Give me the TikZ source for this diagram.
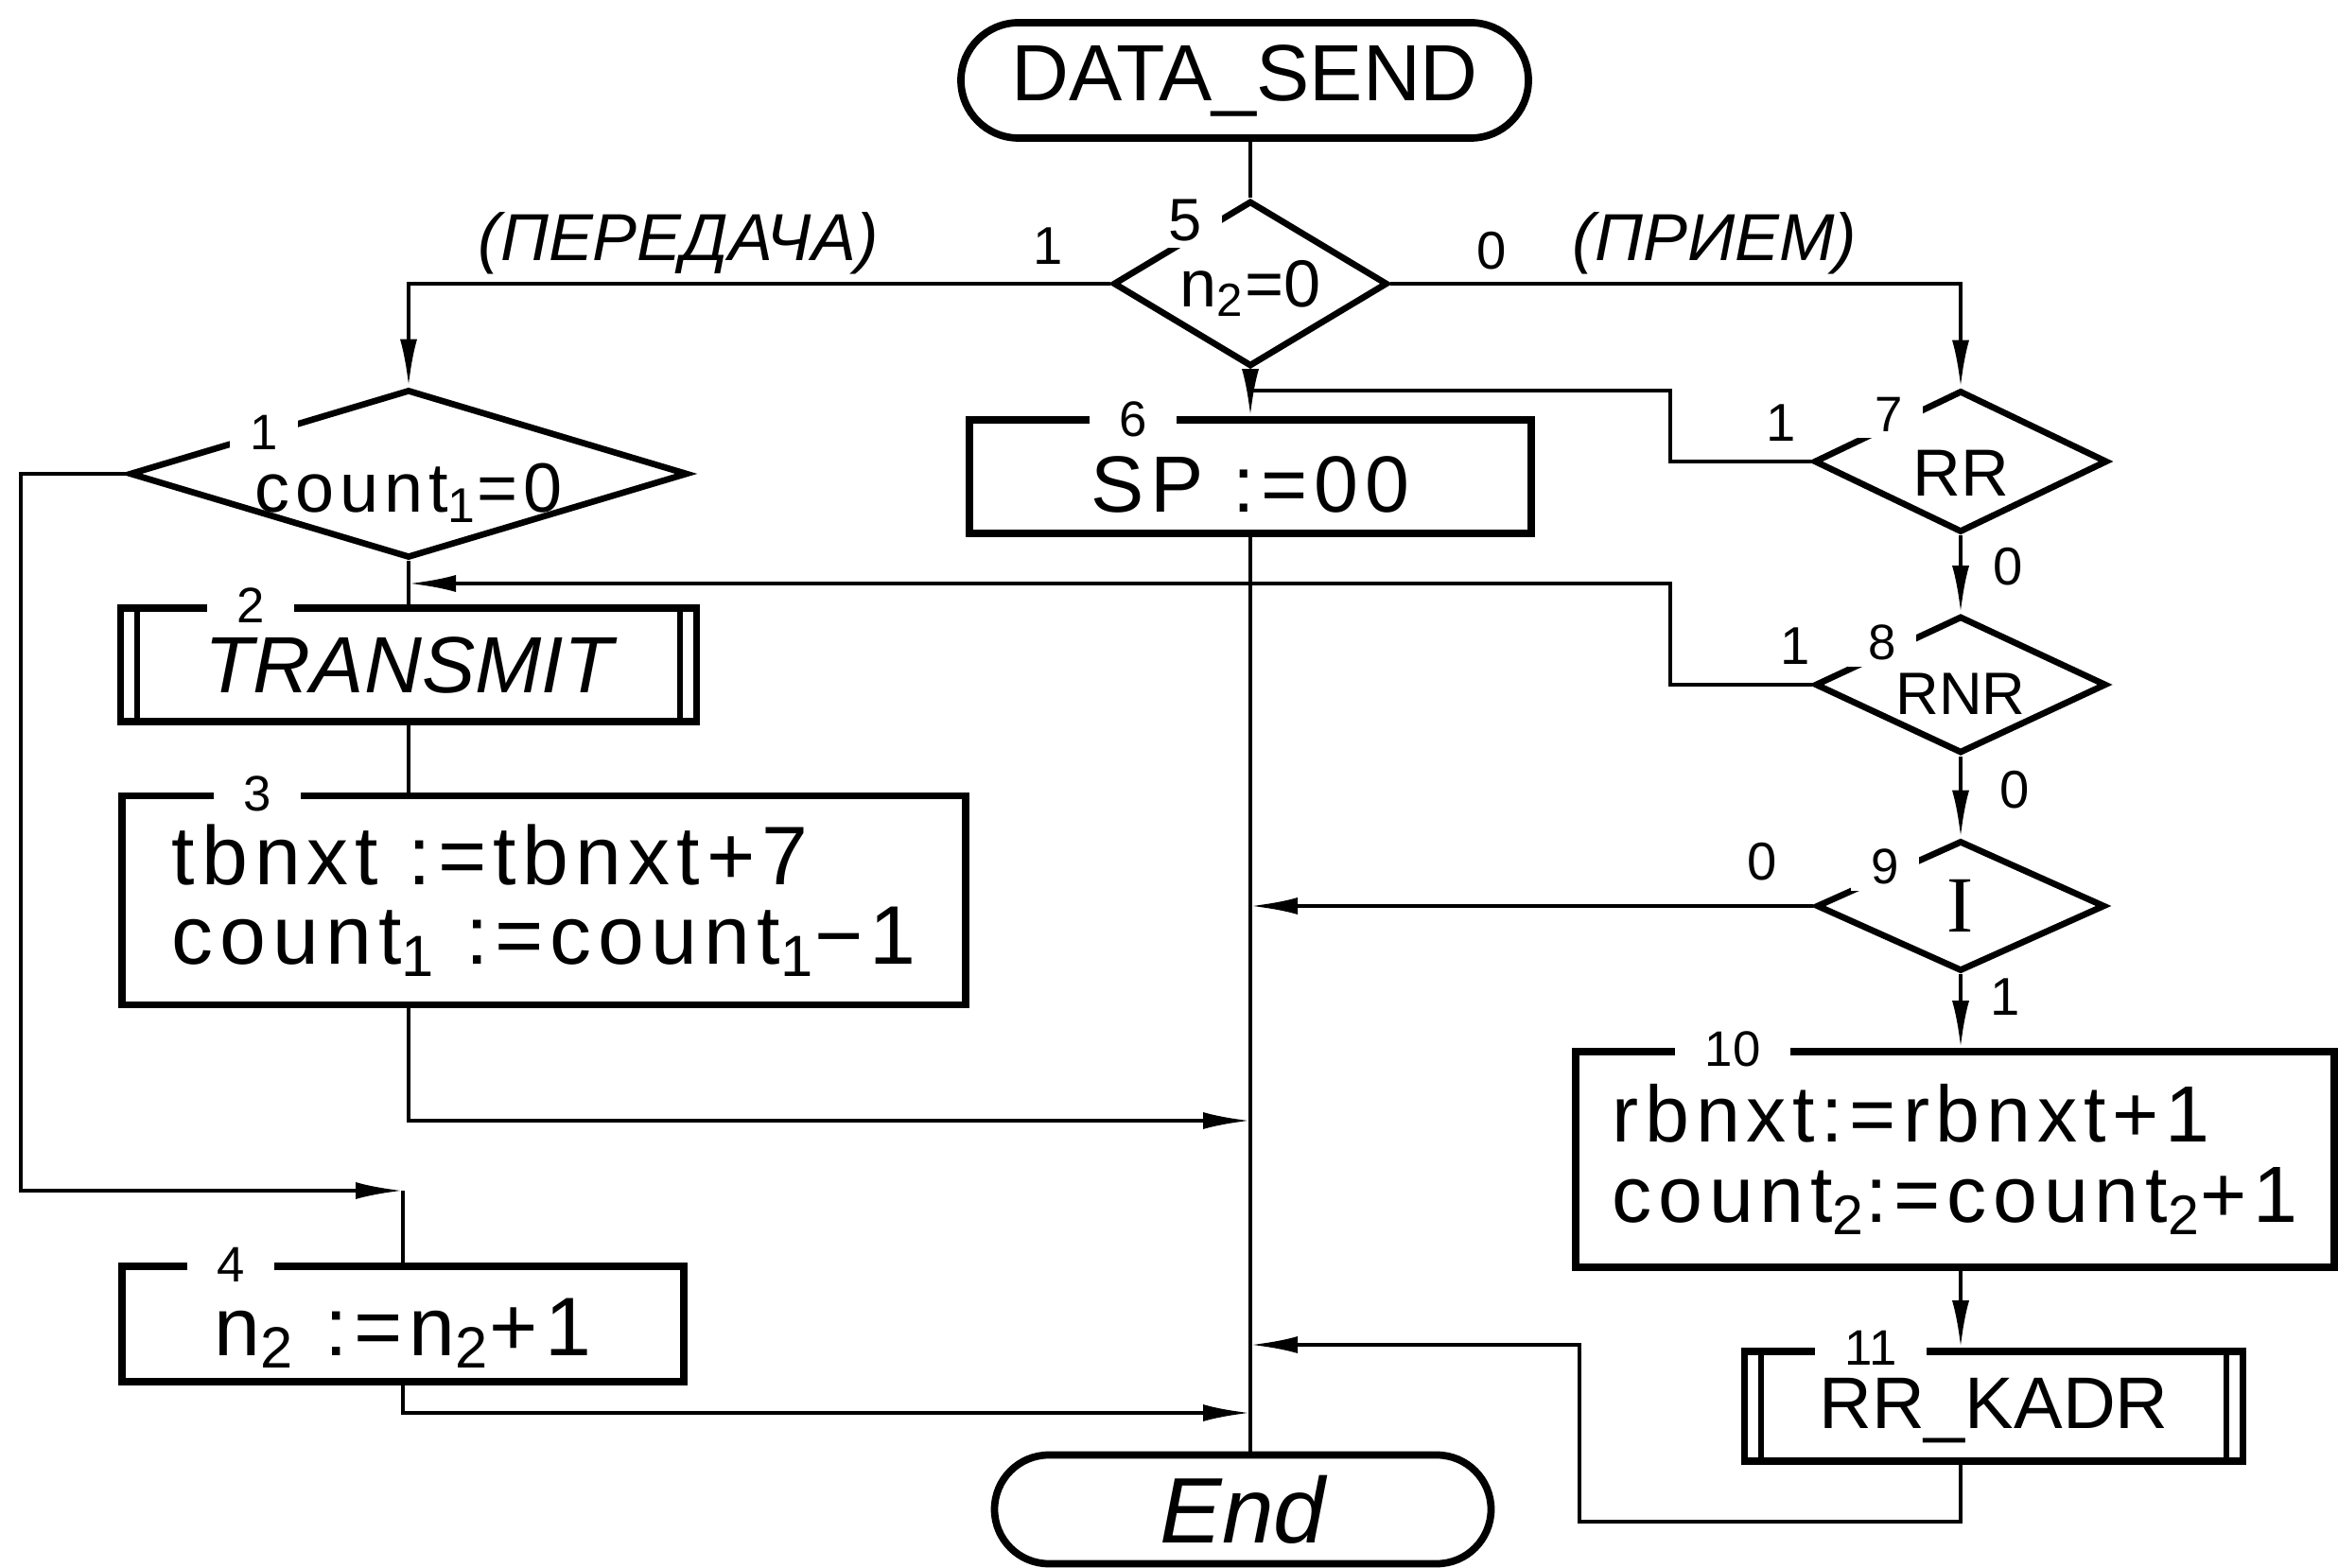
\documentclass[tikz,border=0pt]{standalone}
\usepackage{fontspec}
\setmainfont{Liberation Sans}
\newfontfamily\hand{Liberation Sans}[LetterSpace=8]
\newfontfamily\romanI{Liberation Serif}
\usetikzlibrary{shapes.geometric, shapes.misc, arrows.meta}

\begin{document}
\begin{tikzpicture}[
    line width=1.2pt,
    term/.style={draw, rounded rectangle, line width=2.2pt, inner sep=0pt,
                 font=\fontsize{24}{24}\selectfont},
    box/.style={draw, rectangle, line width=2.2pt, inner sep=0pt,
                font=\hand\fontsize{25}{24}\selectfont},
    subproc/.style={box, path picture={
        \draw[line width=1.8pt]
            ([xshift=5pt]path picture bounding box.north west) -- ([xshift=5pt]path picture bounding box.south west)
            ([xshift=-5pt]path picture bounding box.north east) -- ([xshift=-5pt]path picture bounding box.south east);}},
    decision/.style={draw, diamond, aspect=2, line width=1.9pt, inner sep=0pt,
                     font=\fontsize{22}{22}\selectfont},
    num/.style={fill=white, inner xsep=9pt, inner ysep=0pt, font=\fontsize{15}{15}\selectfont},
    dnum/.style={num, inner xsep=6pt, inner ysep=2pt},
    lbl/.style={font=\fontsize{16}{16}\selectfont},
    arr/.style={-{Latex[length=5mm, width=1.8mm]}}
]
    \useasboundingbox (0,0) rectangle (24.72,16.57);

    \node[term, minimum width=6cm, minimum height=1.22cm] (start) at (13.16,15.72) {DATA\_SEND};
    \node[decision, aspect=1.7, minimum width=2.9cm, minimum height=1.75cm, font=\fontsize{20}{20}\selectfont] (d5) at (13.22,13.57) {\raisebox{-0.05cm}[\height][\depth]{n\textsubscript{2}=0}};
    \node[decision, aspect=3.3, minimum width=5.9cm, minimum height=1.78cm, font=\hand\fontsize{21}{21}\selectfont] (d1) at (4.32,11.56) {\raisebox{-0.2cm}[\height][\depth]{count\textsubscript{1}=0}};
    \node[subproc, minimum width=6.09cm, minimum height=1.2cm, font=\fontsize{24}{24}\selectfont\itshape] (b2) at (4.32,9.54) {TRANSMIT};
    \node[box, minimum width=8.92cm, minimum height=2.21cm, align=left] (b3) at (5.75,7.05) {tbnxt :=tbnxt+7\\count\textsubscript{1} :=count\textsubscript{1}−1};
    \node[box, minimum width=5.94cm, minimum height=1.22cm] (b4) at (4.26,2.57) {\raisebox{-0.1cm}[\height][\depth]{n\textsubscript{2} :=n\textsubscript{2}+1}};
    \node[box, minimum width=5.94cm, minimum height=1.2cm, font=\hand\fontsize{24}{24}\selectfont] (b6) at (13.22,11.53) {\raisebox{-0.08cm}[\height][\depth]{SP :=00}};
    \node[decision, minimum width=3.1cm, minimum height=1.5cm, font=\fontsize{20}{20}\selectfont] (d7) at (20.73,11.69) {\raisebox{-0.12cm}[\height][\depth]{RR}};
    \node[decision, minimum width=3.08cm, minimum height=1.45cm, font=\fontsize{18}{18}\selectfont] (d8) at (20.73,9.33) {\raisebox{-0.1cm}[\height][\depth]{RNR}};
    \node[decision, minimum width=3.05cm, minimum height=1.38cm, font=\fontsize{24}{24}\romanI] (d9) at (20.73,6.99) {I};
    \node[box, minimum width=8.02cm, minimum height=2.28cm, align=left, font=\hand\fontsize{24}{24}\selectfont] (b10) at (20.67,4.31) {rbnxt:=rbnxt+1\\count\textsubscript{2}:=count\textsubscript{2}+1};
    \node[subproc, minimum width=5.27cm, minimum height=1.16cm, font=\fontsize{22}{22}\selectfont] (b11) at (21.08,1.70) {\raisebox{-0.05cm}[\height][\depth]{RR\_KADR}};
    \node[term, minimum width=5.25cm, minimum height=1.15cm, font=\fontsize{28}{28}\selectfont\itshape] (end) at (13.14,0.61) {End};

    \node[dnum, font=\fontsize{18}{18}\selectfont] (n5) at (12.53,14.24) {5};
    \node[dnum] (n1) at (2.79,12.00) {1};
    \node[num] (n2) at (2.65,10.17) {2};
    \node[num] (n3) at (2.72,8.18) {3};
    \node[num] (n4) at (2.44,3.20) {4};
    \node[num] (n6) at (11.98,12.14) {6};
    \node[dnum] (n7) at (19.97,12.19) {7};
    \node[dnum] (n8) at (19.90,9.78) {8};
    \node[dnum] (n9) at (19.93,7.41) {9};
    \node[num] (n10) at (18.32,5.48) {10};
    \node[num] (n11) at (19.78,2.32) {11};

    \node[font=\fontsize{20}{20}\selectfont\itshape] (tx) at (7.17,14.00) {(ПЕРЕДАЧА)};
    \node[lbl] (o5l) at (11.08,13.97) {1};
    \node[lbl] (o5r) at (15.77,13.92) {0};
    \node[font=\fontsize{20}{20}\selectfont\itshape] (rx) at (18.13,14.00) {(ПРИЕМ)};
    \node[lbl] (o7l) at (18.83,12.10) {1};
    \node[lbl] (o7d) at (21.23,10.58) {0};
    \node[lbl] (o8l) at (18.98,9.74) {1};
    \node[lbl] (o8d) at (21.30,8.22) {0};
    \node[lbl] (o9l) at (18.63,7.46) {0};
    \node[lbl] (o9d) at (21.20,6.03) {1};

    \coordinate (lft) at (0.22,3.98);
    \coordinate (c4) at (4.26,3.98);
    \coordinate (j3) at (13.22,4.72);
    \coordinate (j11) at (13.22,2.35);
    \coordinate (j4) at (13.22,1.63);
    \coordinate (k7) at (17.66,12.44);
    \coordinate (k8) at (17.66,10.40);
    \coordinate (k11) at (16.70,0.48);

    \draw (start.south -| d5.north) -- (d5.north);
    \draw[arr] (d5.west) -| (d1.north);
    \draw[arr] (d5.east) -| (d7.north);
    \draw (d1.south) -- (b2.north);
    \draw[arr] (d1.west) -| (lft) -- (c4);
    \draw (c4) -- (b4.north);
    \draw (b2.south) -- (b2.south |- b3.north);
    \draw[arr] (b2.south |- b3.south) |- (j3);
    \draw[arr] (b4.south) |- (j4);
    \draw (b6.south) -- (b6.south |- end.north);
    \draw[arr] (d7.west) -| (k7) -| (b6.north);
    \draw[arr] (d7.south) -- (d8.north);
    \draw[arr] (d8.west) -| (k8) -- (k8 -| d1.south);
    \draw[arr] (d8.south) -- (d9.north);
    \draw[arr] (d9.west) -- (d9.west -| b6.south);
    \draw[arr] (d9.south) -- (d9.south |- b10.north);
    \draw[arr] (b10.south -| d9.south) -- (b11.north -| d9.south);
    \draw[arr] (b11.south -| d9.south) |- (k11) |- (j11);
\end{tikzpicture}
\end{document}
